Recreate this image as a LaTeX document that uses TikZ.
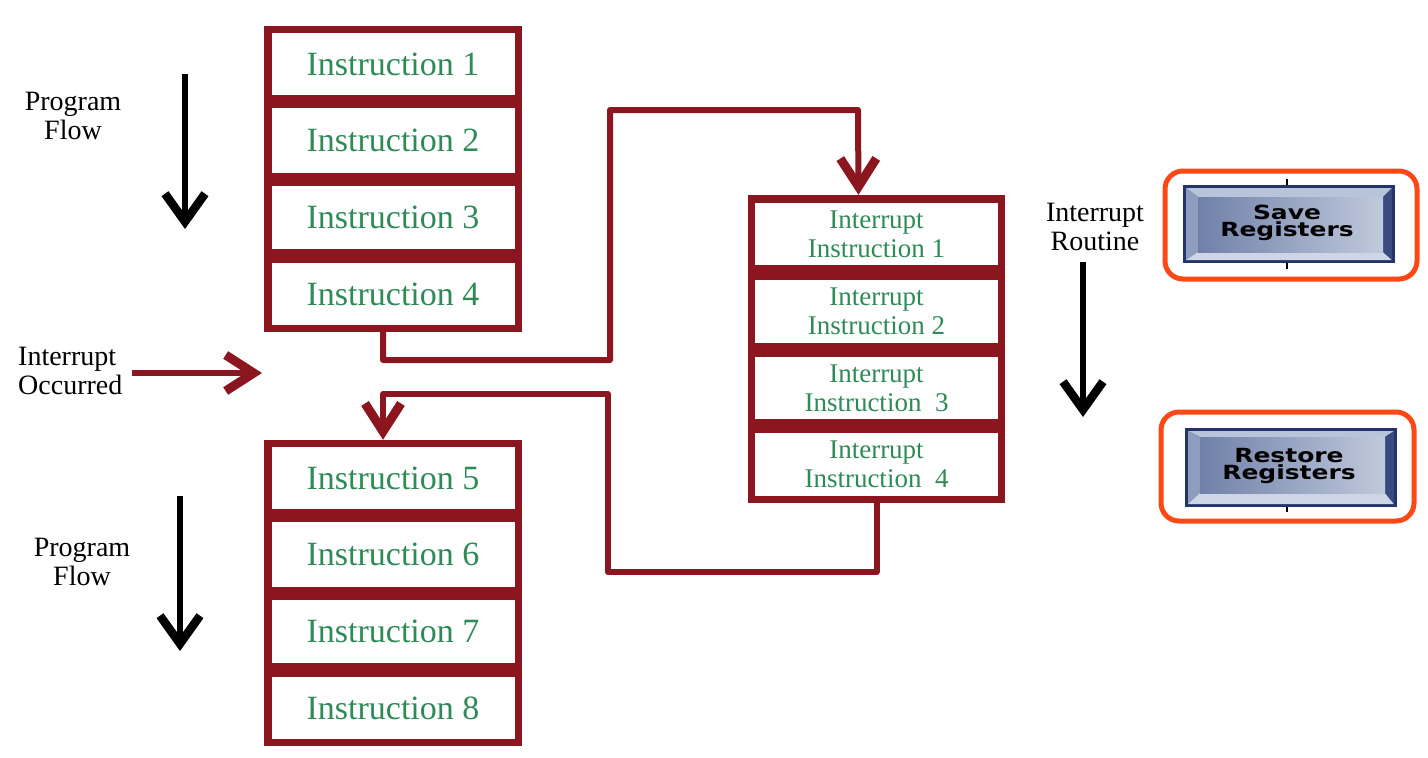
\documentclass[tikz,border=0pt]{standalone}
\usepackage{fontspec}
\setmainfont{Liberation Serif}
\newfontfamily\btnfont{DejaVu Sans}[FakeStretch=1.28]
\usetikzlibrary{arrows.meta}
\definecolor{dred}{RGB}{140,22,32}
\definecolor{igreen}{RGB}{46,139,87}
\definecolor{orng}{RGB}{252,72,20}
\definecolor{bnavy}{RGB}{36,52,106}
\definecolor{bevtop}{RGB}{184,196,218}
\definecolor{bevleft}{RGB}{142,156,190}
\definecolor{bevbot}{RGB}{206,214,230}
\definecolor{bevright}{RGB}{56,74,128}
\definecolor{facel}{RGB}{112,128,168}
\definecolor{facer}{RGB}{192,202,220}
\begin{document}
\begin{tikzpicture}[x=1pt,y=-1pt,
  frame/.style={fill=dred, inner sep=0pt},
  cell/.style={fill=white, inner sep=0pt, text=igreen, minimum width=243pt,
     font=\fontsize{34}{36}\selectfont},
  icell/.style={fill=white, inner sep=0pt, text=igreen, minimum width=243pt,
     align=center, font=\fontsize{27}{29}\selectfont},
  lbl/.style={align=center, inner sep=0pt, font=\fontsize{28}{29}\selectfont},
  conn/.style={draw=dred, line width=6pt, line join=round},
  rtip/.style={-{Straight Barb[length=28pt,width=36pt,line width=9pt]}},
  flow/.style={draw=black, line width=6pt, -{Straight Barb[length=28pt,width=40pt,line width=8.5pt]}},
  hilite/.style={draw=orng, line width=5pt, rounded corners=18pt},
  btntext/.style={inner sep=0pt, align=center, font=\btnfont\bfseries\fontsize{19.5}{17}\selectfont}
]
\useasboundingbox (0,0) rectangle (1428,758);

% ---- top block
\node[frame, minimum width=258pt, minimum height=306pt] (topblk) at (393,179) {};
\node[cell, minimum height=62pt] (i1) at (393,64) {Instruction 1};
\node[cell, minimum height=65pt] (i2) at (393,140.5) {Instruction 2};
\node[cell, minimum height=63pt] (i3) at (393,217.5) {Instruction 3};
\node[cell, minimum height=62pt] (i4) at (393,294) {Instruction 4};

% ---- bottom block
\node[frame, minimum width=258pt, minimum height=306pt] (botblk) at (393,593) {};
\node[cell, minimum height=62pt] (i5) at (393,478) {Instruction 5};
\node[cell, minimum height=65pt] (i6) at (393,554.5) {Instruction 6};
\node[cell, minimum height=63pt] (i7) at (393,631.5) {Instruction 7};
\node[cell, minimum height=62pt] (i8) at (393,708) {Instruction 8};

% ---- interrupt block
\node[frame, minimum width=257pt, minimum height=308pt] (intblk) at (876.5,349) {};
\node[icell, minimum height=62pt] (r1) at (876.5,234) {Interrupt\\Instruction 1};
\node[icell, minimum height=63pt] (r2) at (876.5,311.5) {Interrupt\\Instruction 2};
\node[icell, minimum height=62pt] (r3) at (876.5,388) {Interrupt\\Instruction\ \ 3};
\node[icell, minimum height=63pt] (r4) at (876.5,464.5) {Interrupt\\Instruction\ \ 4};

% ---- connectors
\draw[conn, rtip] ([xshift=-10pt]topblk.south) -- (383,360) -- (610,360) -- (610,110)
   -- (858,110) -- ([xshift=-18pt]intblk.north);
\draw[conn, rtip] (intblk.south) -- (876.5,572) -- (608,572) -- (608,394)
   -- (383,394) -- ([xshift=-10pt]botblk.north);

% ---- labels
\node[lbl] (pf1) at (73,116) {Program\\Flow};
\node[lbl] (pf2) at (82,562) {Program\\Flow};
\node[lbl, align=left, anchor=west] (ioc) at (18,371) {Interrupt\\Occurred};
\node[lbl] (irt) at (1095,227) {Interrupt\\Routine};

\coordinate (iotip) at (262,373);
\draw[conn, rtip] ([xshift=9pt,yshift=-2pt]ioc.east) -- (iotip);

\coordinate (f1s) at (185,74);  \coordinate (f1e) at (185,229);
\coordinate (f2s) at (180,496); \coordinate (f2e) at (180,651);
\coordinate (f3s) at (1083,262); \coordinate (f3e) at (1083,417);
\draw[flow] (f1s) -- (f1e);
\draw[flow] (f2s) -- (f2e);
\draw[flow] (f3s) -- (f3e);

% ---- Save Registers button
\draw[black, line width=1.5pt] (1287,179) -- (1287,269);
\fill[bnavy] (1183,185) rectangle (1395,263);
\fill[bevtop] (1186,188) -- (1392,188) -- (1383,197) -- (1198,197) -- cycle;
\fill[bevleft] (1186,188) -- (1198,197) -- (1198,252) -- (1186,260) -- cycle;
\fill[bevbot] (1186,260) -- (1198,252) -- (1383,252) -- (1392,260) -- cycle;
\fill[bevright] (1392,188) -- (1383,197) -- (1383,252) -- (1392,260) -- cycle;
\shade[left color=facel, right color=facer] (1198,197) rectangle (1383,252);
\node[btntext] (save) at (1287,223) {Save\\Registers};
\draw[hilite] (1165,171) rectangle (1417,279);

% ---- Restore Registers button
\draw[black, line width=1.5pt] (1287,500) -- (1287,512);
\fill[bnavy] (1185,428) rectangle (1397,507);
\fill[bevtop] (1188,431) -- (1394,431) -- (1385,437) -- (1200,437) -- cycle;
\fill[bevleft] (1188,431) -- (1200,437) -- (1200,493) -- (1188,504) -- cycle;
\fill[bevbot] (1188,504) -- (1200,493) -- (1385,493) -- (1394,504) -- cycle;
\fill[bevright] (1394,431) -- (1385,437) -- (1385,493) -- (1394,504) -- cycle;
\shade[left color=facel, right color=facer] (1200,437) rectangle (1385,493);
\node[btntext] (restore) at (1289,466) {Restore\\Registers};
\draw[hilite] (1161,412) rectangle (1414,521);
\end{tikzpicture}
\end{document}
